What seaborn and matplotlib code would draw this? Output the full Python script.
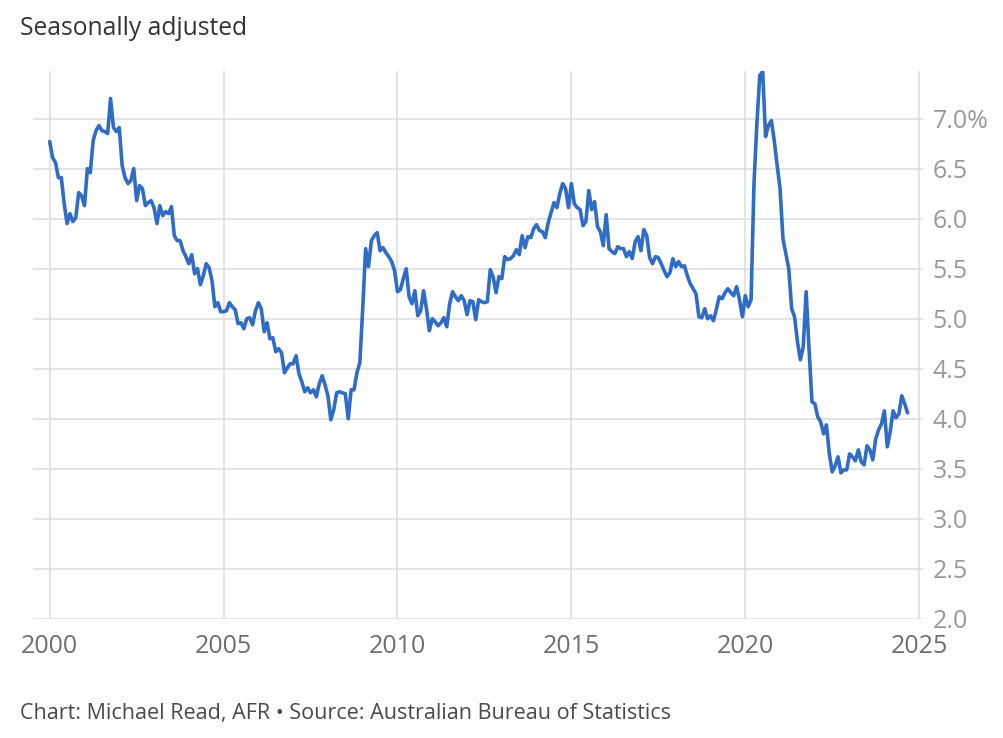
"""
Australian unemployment rate, seasonally adjusted, monthly 2000-2024
"""

import numpy as np
import pandas as pd
import matplotlib
matplotlib.use("Agg")
import matplotlib.pyplot as plt
import seaborn as sns

start_year = 2000

# monthly unemployment rate (%), Jan 2000 onwards
unemployment_rate = [
    6.77, 6.61, 6.56, 6.41, 6.41, 6.15, 5.95, 6.05, 5.97, 6.01, 6.26, 6.23,  # 2000
    6.13, 6.50, 6.46, 6.78, 6.88, 6.93, 6.88, 6.87, 6.85, 7.20, 6.91, 6.87,  # 2001
    6.91, 6.53, 6.41, 6.35, 6.38, 6.50, 6.18, 6.33, 6.30, 6.13, 6.16, 6.18,  # 2002
    6.11, 5.95, 6.13, 6.03, 6.07, 6.05, 6.12, 5.83, 5.78, 5.78, 5.68, 5.62,  # 2003
    5.55, 5.64, 5.45, 5.50, 5.34, 5.43, 5.55, 5.51, 5.38, 5.12, 5.16, 5.07,  # 2004
    5.07, 5.08, 5.16, 5.12, 5.09, 4.95, 4.96, 4.90, 5.00, 5.01, 4.94, 5.08,  # 2005
    5.16, 5.10, 4.87, 4.96, 4.80, 4.81, 4.67, 4.70, 4.66, 4.46, 4.51, 4.55,  # 2006
    4.55, 4.63, 4.45, 4.37, 4.27, 4.31, 4.26, 4.29, 4.22, 4.35, 4.43, 4.34,  # 2007
    4.23, 3.99, 4.09, 4.26, 4.27, 4.26, 4.25, 4.00, 4.29, 4.29, 4.46, 4.56,  # 2008
    5.10, 5.70, 5.52, 5.78, 5.83, 5.86, 5.68, 5.71, 5.66, 5.62, 5.57, 5.48,  # 2009
    5.27, 5.29, 5.40, 5.50, 5.22, 5.15, 5.28, 5.03, 5.08, 5.28, 5.10, 4.88,  # 2010
    5.00, 4.97, 4.93, 4.96, 5.01, 4.92, 5.15, 5.27, 5.22, 5.18, 5.23, 5.18,  # 2011
    5.04, 5.18, 5.17, 4.99, 5.19, 5.17, 5.16, 5.17, 5.49, 5.42, 5.26, 5.42,  # 2012
    5.40, 5.62, 5.59, 5.60, 5.63, 5.69, 5.64, 5.83, 5.71, 5.82, 5.81, 5.90,  # 2013
    5.94, 5.88, 5.87, 5.81, 5.96, 6.06, 6.16, 6.11, 6.25, 6.35, 6.30, 6.11,  # 2014
    6.35, 6.15, 6.11, 6.09, 5.93, 5.97, 6.28, 6.09, 6.17, 5.92, 5.87, 5.73,  # 2015
    6.04, 5.70, 5.67, 5.65, 5.72, 5.70, 5.70, 5.62, 5.67, 5.60, 5.77, 5.82,  # 2016
    5.68, 5.89, 5.83, 5.61, 5.55, 5.62, 5.61, 5.55, 5.48, 5.42, 5.46, 5.60,  # 2017
    5.52, 5.57, 5.52, 5.53, 5.43, 5.35, 5.30, 5.25, 5.02, 5.01, 5.10, 5.00,  # 2018
    5.03, 4.98, 5.09, 5.22, 5.20, 5.26, 5.30, 5.26, 5.23, 5.32, 5.19, 5.02,  # 2019
    5.23, 5.12, 5.19, 6.35, 6.95, 7.43, 7.47, 6.82, 6.93, 6.98, 6.78, 6.53,  # 2020
    6.30, 5.80, 5.65, 5.50, 5.10, 5.02, 4.77, 4.59, 4.72, 5.27, 4.70, 4.17,  # 2021
    4.15, 4.02, 3.97, 3.85, 3.94, 3.65, 3.47, 3.53, 3.62, 3.46, 3.49, 3.49,  # 2022
    3.65, 3.62, 3.58, 3.69, 3.57, 3.54, 3.73, 3.69, 3.59, 3.80, 3.89, 3.95,  # 2023
    4.08, 3.72, 3.87, 4.08, 4.01, 4.05, 4.23, 4.15, 4.06,                    # 2024
]

x_ticks = [2000, 2005, 2010, 2015, 2020, 2025]
y_ticks = [2.0, 2.5, 3.0, 3.5, 4.0, 4.5, 5.0, 5.5, 6.0, 6.5, 7.0]
y_tick_labels = ["2.0", "2.5", "3.0", "3.5", "4.0", "4.5", "5.0", "5.5", "6.0", "6.5", "7.0%"]

title = "Seasonally adjusted"
footer = "Chart: Michael Read, AFR \u2022 Source: Australian Bureau of Statistics"

df = pd.DataFrame({
    "date": start_year + np.arange(len(unemployment_rate)) / 12,
    "rate": unemployment_rate,
})

sns.set_theme(style="white")
plt.rcParams["font.family"] = ["Open Sans", "DejaVu Sans"]

W, H = 1004, 738
fig = plt.figure(figsize=(W / 100, H / 100), dpi=100)
ax = fig.add_axes([33 / W, 119 / H, 890 / W, 548.5 / H])

sns.lineplot(data=df, x="date", y="rate", ax=ax, color="#2f6cc7", linewidth=2.6)

ax.set_xlim(1999.52, 2025.11)
ax.set_ylim(2.0, 7.48)
ax.set_xticks(x_ticks)
ax.set_xticklabels([str(t) for t in x_ticks])
ax.set_yticks(y_ticks)
ax.set_yticklabels(y_tick_labels)
ax.yaxis.tick_right()
ax.set_xlabel("")
ax.set_ylabel("")

ax.grid(True, color="#dddddd", linewidth=1.1)
ax.set_axisbelow(True)
for s in ax.spines.values():
    s.set_visible(False)

ax.tick_params(axis="x", length=0, pad=11, labelsize=18, labelcolor="#6e6e6e")
ax.tick_params(axis="y", length=0, pad=7, labelsize=18, labelcolor="#999999")

fig.text(20 / W, 1 - 35 / H, title, fontsize=17.7, color="#333333", va="baseline", ha="left")
fig.text(20 / W, 1 - 719 / H, footer, fontsize=15.5, color="#4a4a4a", va="baseline", ha="left")

fig.savefig("out.png", dpi=100)
plt.close()
